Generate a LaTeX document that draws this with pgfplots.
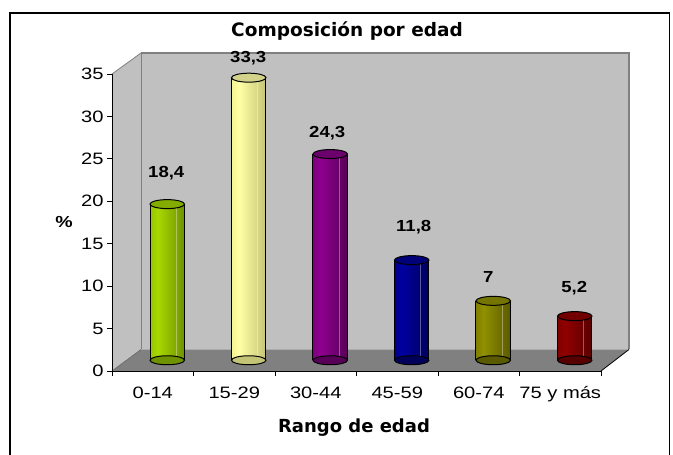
\documentclass[border=0pt]{standalone}
\usepackage{fontspec}
\setmainfont{Liberation Sans}
\newfontfamily\tickfont[FakeStretch=1.22]{Liberation Sans}
\newfontfamily\labfont[FakeStretch=1.16]{Liberation Sans}
\newfontfamily\titfont{DejaVu Sans}
\usepackage{pgfplots}
\pgfplotsset{compat=1.18}

\definecolor{wall}{HTML}{C0C0C0}
\definecolor{floorc}{HTML}{808080}
% green
\definecolor{gA}{HTML}{96C400}\definecolor{gB}{HTML}{A8D800}\definecolor{gC}{HTML}{6E9200}\definecolor{gT}{HTML}{84AC00}
% yellow
\definecolor{yA}{HTML}{F4F490}\definecolor{yB}{HTML}{FFFFA6}\definecolor{yC}{HTML}{C4C476}\definecolor{yT}{HTML}{D2D28A}
% purple
\definecolor{pA}{HTML}{7E007E}\definecolor{pB}{HTML}{8E008E}\definecolor{pC}{HTML}{580058}\definecolor{pT}{HTML}{6C006C}
% navy
\definecolor{nA}{HTML}{00008A}\definecolor{nB}{HTML}{0000A0}\definecolor{nC}{HTML}{00005A}\definecolor{nT}{HTML}{000078}
% olive
\definecolor{oA}{HTML}{808000}\definecolor{oB}{HTML}{909000}\definecolor{oC}{HTML}{5A5A00}\definecolor{oT}{HTML}{747400}
% red
\definecolor{rA}{HTML}{800000}\definecolor{rB}{HTML}{900000}\definecolor{rC}{HTML}{580000}\definecolor{rT}{HTML}{720000}

\pgfdeclarehorizontalshading{shG}{100bp}{color(0bp)=(gA); color(25bp)=(gA); color(36bp)=(gB); color(75bp)=(gC); color(100bp)=(gC)}
\pgfdeclarehorizontalshading{shY}{100bp}{color(0bp)=(yA); color(25bp)=(yA); color(36bp)=(yB); color(75bp)=(yC); color(100bp)=(yC)}
\pgfdeclarehorizontalshading{shP}{100bp}{color(0bp)=(pA); color(25bp)=(pA); color(36bp)=(pB); color(75bp)=(pC); color(100bp)=(pC)}
\pgfdeclarehorizontalshading{shN}{100bp}{color(0bp)=(nA); color(25bp)=(nA); color(36bp)=(nB); color(75bp)=(nC); color(100bp)=(nC)}
\pgfdeclarehorizontalshading{shO}{100bp}{color(0bp)=(oA); color(25bp)=(oA); color(36bp)=(oB); color(75bp)=(oC); color(100bp)=(oC)}
\pgfdeclarehorizontalshading{shR}{100bp}{color(0bp)=(rA); color(25bp)=(rA); color(36bp)=(rB); color(75bp)=(rC); color(100bp)=(rC)}

\pgfplotsset{
  sh/.style={xshift=14.5pt, yshift=10.75pt},
  base/.style={sh, only marks, mark=*, mark size=17.25pt, mark options={yscale=0.26, fill=#1, draw=black, line width=1pt}},
  body/.style={sh, ybar, bar width=34.5pt, bar shift=0pt, draw=none, shade, shading=#1},
  sideL/.style={sh, black, line width=1pt, xshift=-17.25pt, mark=none},
  sideR/.style={sh, black, line width=1pt, xshift=17.25pt, mark=none},
  hl/.style={sh, white, opacity=0.35, line width=0.5pt, xshift=9pt, mark=none},
  cap/.style n args={3}{sh, only marks, mark=*, mark size=17.25pt, mark options={yscale=0.26, fill=#1, draw=black, line width=1pt},
     nodes near coords, every node near coord/.append style={anchor=center, xshift=#2, yshift=#3, font=\labfont\bfseries\fontsize{16}{17}\selectfont, text=black}},
}

\begin{document}
\begin{tikzpicture}[x=1pt,y=1pt]
\useasboundingbox (0,0) rectangle (673,455);
\clip (0,0) rectangle (673,455);
\fill[white] (0,0) rectangle (673,455);
% frame
\draw[line width=1.6pt] (10,-10) rectangle (669.5,442);
% side wall
\fill[wall] (112,84) -- (141,105.5) -- (141,402) -- (112,381) -- cycle;
\draw[floorc, line width=0.8pt] (112,381) -- (141,402);
% back wall
\fill[wall] (141,105.5) rectangle (629,402);
\draw[floorc, line width=0.8pt] (141,105.5) -- (141,402);
\draw[floorc, line width=1.6pt] (141,402) -- (629,402) -- (629,105.5);
% floor
\fill[floorc] (112,84) -- (601,84) -- (629,105.5) -- (141,105.5) -- cycle;
\draw[black, line width=0.8pt] (601,84) -- (629,105.5);
\draw[black!60, line width=0.6pt] (112,84) -- (141,105.5);

\begin{axis}[
  at={(112pt,84pt)}, anchor=south west,
  scale only axis, width=489pt, height=297pt,
  xmin=0, xmax=6, ymin=0, ymax=35,
  axis x line*=bottom, axis y line*=left,
  axis line style={black, line width=0.8pt},
  clip=false,
  xtick={0.5,1.5,2.5,3.5,4.5,5.5},
  xticklabels={0-14,15-29,30-44,45-59,60-74,75 y más},
  minor xtick={0,1,2,3,4,5,6},
  major x tick style={draw=none},
  minor x tick style={black, line width=0.8pt},
  minor tick length=5pt,
  ytick={0,5,10,15,20,25,30,35},
  major y tick style={black, line width=0.8pt},
  major tick length=5pt,
  tick align=outside,
  ticklabel style={font=\tickfont\fontsize{16.5}{17}\selectfont},
  xticklabel style={yshift=-7pt},
  /pgf/number format/use comma,
  /pgf/number format/assume math mode=true,
  title={Composición por edad},
  title style={at={(axis description cs:0.4806,1.1077)}, anchor=base, font=\titfont\bfseries\fontsize{18.5}{20}\selectfont},
  xlabel={Rango de edad},
  xlabel style={at={(axis description cs:0.4949,-0.2054)}, anchor=base, font=\titfont\bfseries\fontsize{18}{20}\selectfont},
  ylabel={\%},
  ylabel style={at={(axis description cs:-0.0982,0.5017)}, anchor=center, rotate=-90, font=\tickfont\bfseries\fontsize{16}{17}\selectfont},
]
% 0-14
\addplot[base=gC] coordinates {(0.5,0)};
\addplot[body=shG] coordinates {(0.5,18.4)};
\addplot[sideL] coordinates {(0.5,0) (0.5,18.4)};
\addplot[sideR] coordinates {(0.5,0) (0.5,18.4)};
\addplot[hl] coordinates {(0.5,0) (0.5,18.4)};
\addplot[cap={gT}{-1pt}{31pt}] coordinates {(0.5,18.4)};
% 15-29
\addplot[base=yC] coordinates {(1.5,0)};
\addplot[body=shY] coordinates {(1.5,33.3)};
\addplot[sideL] coordinates {(1.5,0) (1.5,33.3)};
\addplot[sideR] coordinates {(1.5,0) (1.5,33.3)};
\addplot[hl] coordinates {(1.5,0) (1.5,33.3)};
\addplot[cap={yT}{-0.5pt}{20pt}] coordinates {(1.5,33.3)};
% 30-44
\addplot[base=pC] coordinates {(2.5,0)};
\addplot[body=shP] coordinates {(2.5,24.3)};
\addplot[sideL] coordinates {(2.5,0) (2.5,24.3)};
\addplot[sideR] coordinates {(2.5,0) (2.5,24.3)};
\addplot[hl] coordinates {(2.5,0) (2.5,24.3)};
\addplot[cap={pT}{-3pt}{21pt}] coordinates {(2.5,24.3)};
% 45-59
\addplot[base=nC] coordinates {(3.5,0)};
\addplot[body=shN] coordinates {(3.5,11.8)};
\addplot[sideL] coordinates {(3.5,0) (3.5,11.8)};
\addplot[sideR] coordinates {(3.5,0) (3.5,11.8)};
\addplot[hl] coordinates {(3.5,0) (3.5,11.8)};
\addplot[cap={nT}{2pt}{33pt}] coordinates {(3.5,11.8)};
% 60-74
\addplot[base=oC] coordinates {(4.5,0)};
\addplot[body=shO] coordinates {(4.5,7)};
\addplot[sideL] coordinates {(4.5,0) (4.5,7)};
\addplot[sideR] coordinates {(4.5,0) (4.5,7)};
\addplot[hl] coordinates {(4.5,0) (4.5,7)};
\addplot[cap={oT}{-5pt}{24pt}] coordinates {(4.5,7)};
% 75 y mas
\addplot[base=rC] coordinates {(5.5,0)};
\addplot[body=shR] coordinates {(5.5,5.2)};
\addplot[sideL] coordinates {(5.5,0) (5.5,5.2)};
\addplot[sideR] coordinates {(5.5,0) (5.5,5.2)};
\addplot[hl] coordinates {(5.5,0) (5.5,5.2)};
\addplot[cap={rT}{-0.5pt}{28pt}] coordinates {(5.5,5.2)};
\end{axis}
\end{tikzpicture}
\end{document}
